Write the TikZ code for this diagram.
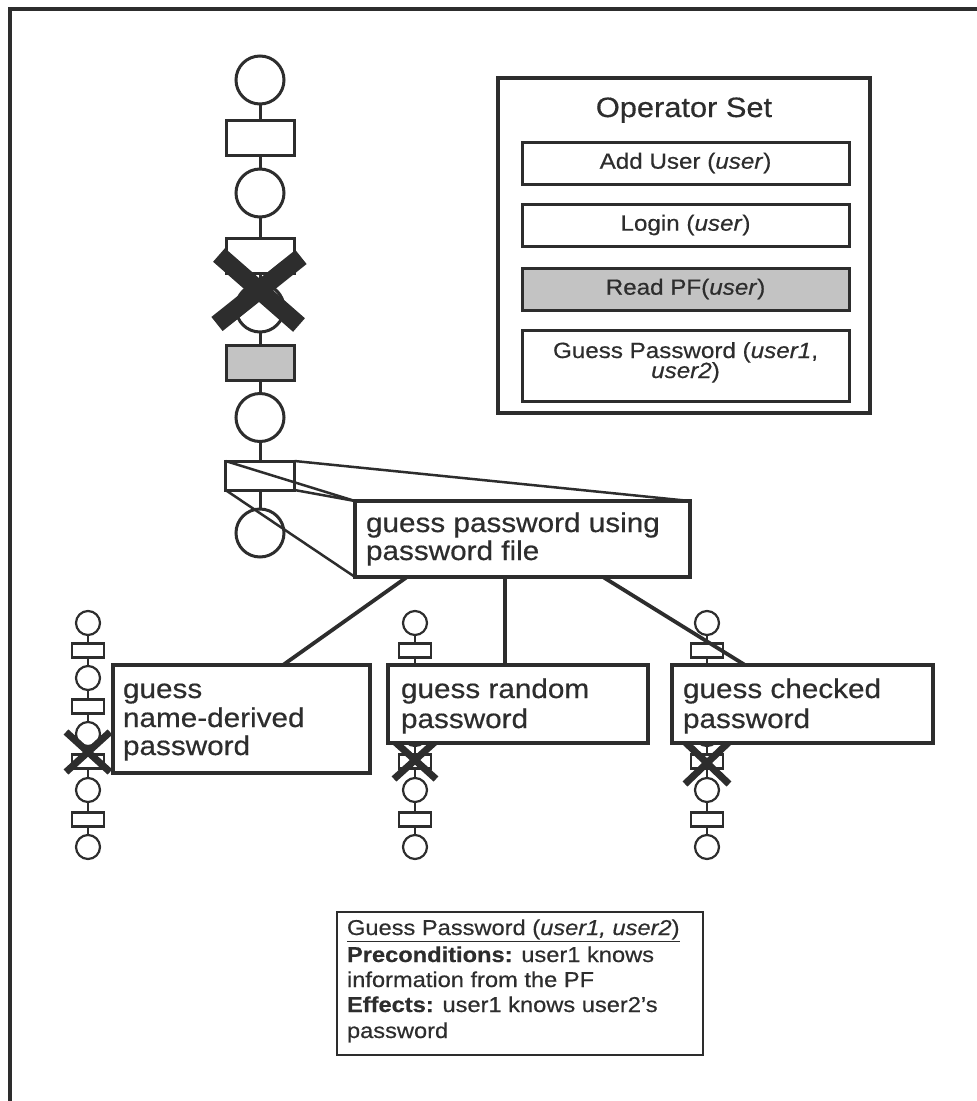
\documentclass[tikz,border=0pt]{standalone}
\usepackage{fontspec}
\setmainfont{Liberation Sans}[FakeStretch=1.1, FakeBold=0.5]
\usetikzlibrary{calc}

\definecolor{ink}{RGB}{45,45,45}
\definecolor{shade}{RGB}{195,195,195}

\newcommand\bigfont{\fontsize{27}{29}\selectfont}
\newcommand\opfont{\fontsize{22}{20}\selectfont}
\newcommand\titlefont{\fontsize{28}{30}\selectfont}
\newcommand\notefont{\fontsize{21.5}{25}\selectfont}

\begin{document}
\begin{tikzpicture}[x=1pt,y=-1pt,
  every node/.style={inner sep=0pt, outer sep=0pt, text=ink},
  % Petri-net style plan elements
  place/.style={circle, draw=ink, line width=3pt, minimum size=48pt},
  trans/.style={rectangle, draw=ink, line width=3pt, minimum width=68pt, minimum height=35pt},
  link/.style={draw=ink, line width=3pt},
  mplace/.style={circle, draw=ink, line width=2.2pt, minimum size=24pt},
  mtrans/.style={rectangle, draw=ink, line width=2.2pt, minimum width=32pt, minimum height=14pt},
  mlink/.style={draw=ink, line width=2.2pt},
  cross/.style={draw=ink, line width=18pt},
  mcross/.style={draw=ink, line width=7pt},
  % boxes and labels
  opitem/.style={rectangle, draw=ink, line width=3pt, minimum width=327pt, minimum height=42pt, font=\opfont},
  labelbox/.style={rectangle, draw=ink, line width=3.3pt, fill=white},
  lbl/.style={anchor=base west, font=\bigfont},
  oplbl/.style={anchor=base, font=\opfont},
  note/.style={anchor=base west, font=\notefont},
  expand/.style={draw=ink, line width=2.5pt},
  branch/.style={draw=ink, line width=3.8pt},
]
\useasboundingbox (0,0) rectangle (977,1101);

% frame (top and left edges)
\draw[ink, line width=4pt] (10,1101) -- (10,9) -- (977,9);

% operator set panel
\node[rectangle, draw=ink, line width=4pt, minimum width=372pt, minimum height=335pt] (opset) at (684,245.5) {};
\node[anchor=base, font=\titlefont] (optitle) at (684,117) {Operator Set};
\node[opitem] (addu) at (685.5,163) {Add User (\textit{user})};
\node[opitem] (login) at (685.5,225) {Login (\textit{user})};
\node[opitem, fill=shade] (readpf) at (685.5,289) {Read PF(\textit{user})};
\node[opitem, minimum height=71pt] (guessop) at (685.5,365.5) {};
\node[oplbl] (guessl1) at (685.5,358) {Guess Password (\textit{user1},};
\node[oplbl] (guessl2) at (685.5,378) {\textit{user2})};

% main plan chain
\node[place] (c1) at (260,80) {};
\node[trans] (r1) at (260,137.5) {};
\node[place] (c2) at (260,193) {};
\node[trans] (r2) at (260,255.5) {};
\node[place] (c3) at (260,308) {};
\node[trans, fill=shade] (r3) at (260,362.5) {};
\node[place] (c4) at (260,417.5) {};
\node[trans, minimum width=69pt, minimum height=29pt] (r4) at (260,475.5) {};
\node[place] (c5) at (260,533) {};
\draw[link] (c1) -- (r1) -- (c2) -- (r2) -- (c3) -- (r3) -- (c4) -- (r4) -- (c5);

% removed step
\coordinate (xa) at (219,255);
\coordinate (xb) at (299,325);
\coordinate (xc) at (301,257);
\coordinate (xd) at (217,324);
\draw[cross] (xa) -- (xb);
\draw[cross] (xc) -- (xd);

% small plan chains
\foreach \k/\x in {nd/88, rn/415, ck/707} {
  \node[mplace] (\k-c1) at (\x,623) {};
  \node[mtrans] (\k-t1) at (\x,650.5) {};
  \node[mplace] (\k-c2) at (\x,678) {};
  \node[mtrans] (\k-t2) at (\x,706.5) {};
  \node[mplace] (\k-c3) at (\x,734) {};
  \node[mtrans] (\k-t3) at (\x,761.5) {};
  \node[mplace] (\k-c4) at (\x,790) {};
  \node[mtrans] (\k-t4) at (\x,819.5) {};
  \node[mplace] (\k-c5) at (\x,847) {};
  \draw[mlink] (\k-c1) -- (\k-t1) -- (\k-c2) -- (\k-t2) -- (\k-c3) -- (\k-t3) -- (\k-c4) -- (\k-t4) -- (\k-c5);
}
\draw[mcross] (66,732) -- (110,772);
\draw[mcross] (110,732) -- (66,772);
\draw[mcross] (394,741) -- (436,779);
\draw[mcross] (436,741) -- (394,779);
\draw[mcross] (685,742) -- (729,784);
\draw[mcross] (729,742) -- (685,784);

% expanded step
\node[labelbox, minimum width=335pt, minimum height=76pt] (big) at (522.5,539) {};
\draw[expand] (r4.north west) -- (big.north west);
\draw[expand] (r4.north east) -- (big.north east);
\draw[expand] (r4.south east) -- (big.north west);
\draw[expand] (r4.south west) -- (big.south west);
\node[labelbox, minimum width=335pt, minimum height=76pt] (bigfront) at (522.5,539) {};
\node[lbl] (bigl1) at (366,532) {guess password using};
\node[lbl] (bigl2) at (366,560) {password file};

% alternative refinements
\node[labelbox, minimum width=257pt, minimum height=108pt] (name) at (241.5,719) {};
\node[labelbox, minimum width=260pt, minimum height=78pt] (rand) at (518,704) {};
\node[labelbox, minimum width=261pt, minimum height=78pt] (check) at (802.5,704) {};
\draw[branch] ($(bigfront.south west)+(52,0)$) -- ($(name.north west)+(170,0)$);
\draw[branch] ($(bigfront.south west)+(150,0)$) -- ($(rand.north west)+(117,0)$);
\draw[branch] ($(bigfront.south west)+(248,0)$) -- ($(check.north west)+(73,0)$);
\node[labelbox, minimum width=257pt, minimum height=108pt] (namefront) at (241.5,719) {};
\node[labelbox, minimum width=260pt, minimum height=78pt] (randfront) at (518,704) {};
\node[labelbox, minimum width=261pt, minimum height=78pt] (checkfront) at (802.5,704) {};

\node[lbl] (nd1) at (123,698) {guess};
\node[lbl] (nd2) at (123,727) {name-derived};
\node[lbl] (nd3) at (123,755) {password};
\node[lbl] (rn1) at (401,698) {guess random};
\node[lbl] (rn2) at (401,728) {password};
\node[lbl] (ck1) at (683,698) {guess checked};
\node[lbl] (ck2) at (683,728) {password};

% operator description
\node[rectangle, draw=ink, line width=2.5pt, minimum width=366pt, minimum height=143pt] (desc) at (520,983.5) {};
\node[note] (d1) at (347,935) {\underline{Guess Password (\textit{user1, user2})}};
\node[note] (d2) at (347,962) {\textbf{Preconditions:} user1 knows};
\node[note] (d3) at (347,987) {information from the PF};
\node[note] (d4) at (347,1012) {\textbf{Effects:} user1 knows user2's};
\node[note] (d5) at (347,1038) {password};
\end{tikzpicture}
\end{document}
